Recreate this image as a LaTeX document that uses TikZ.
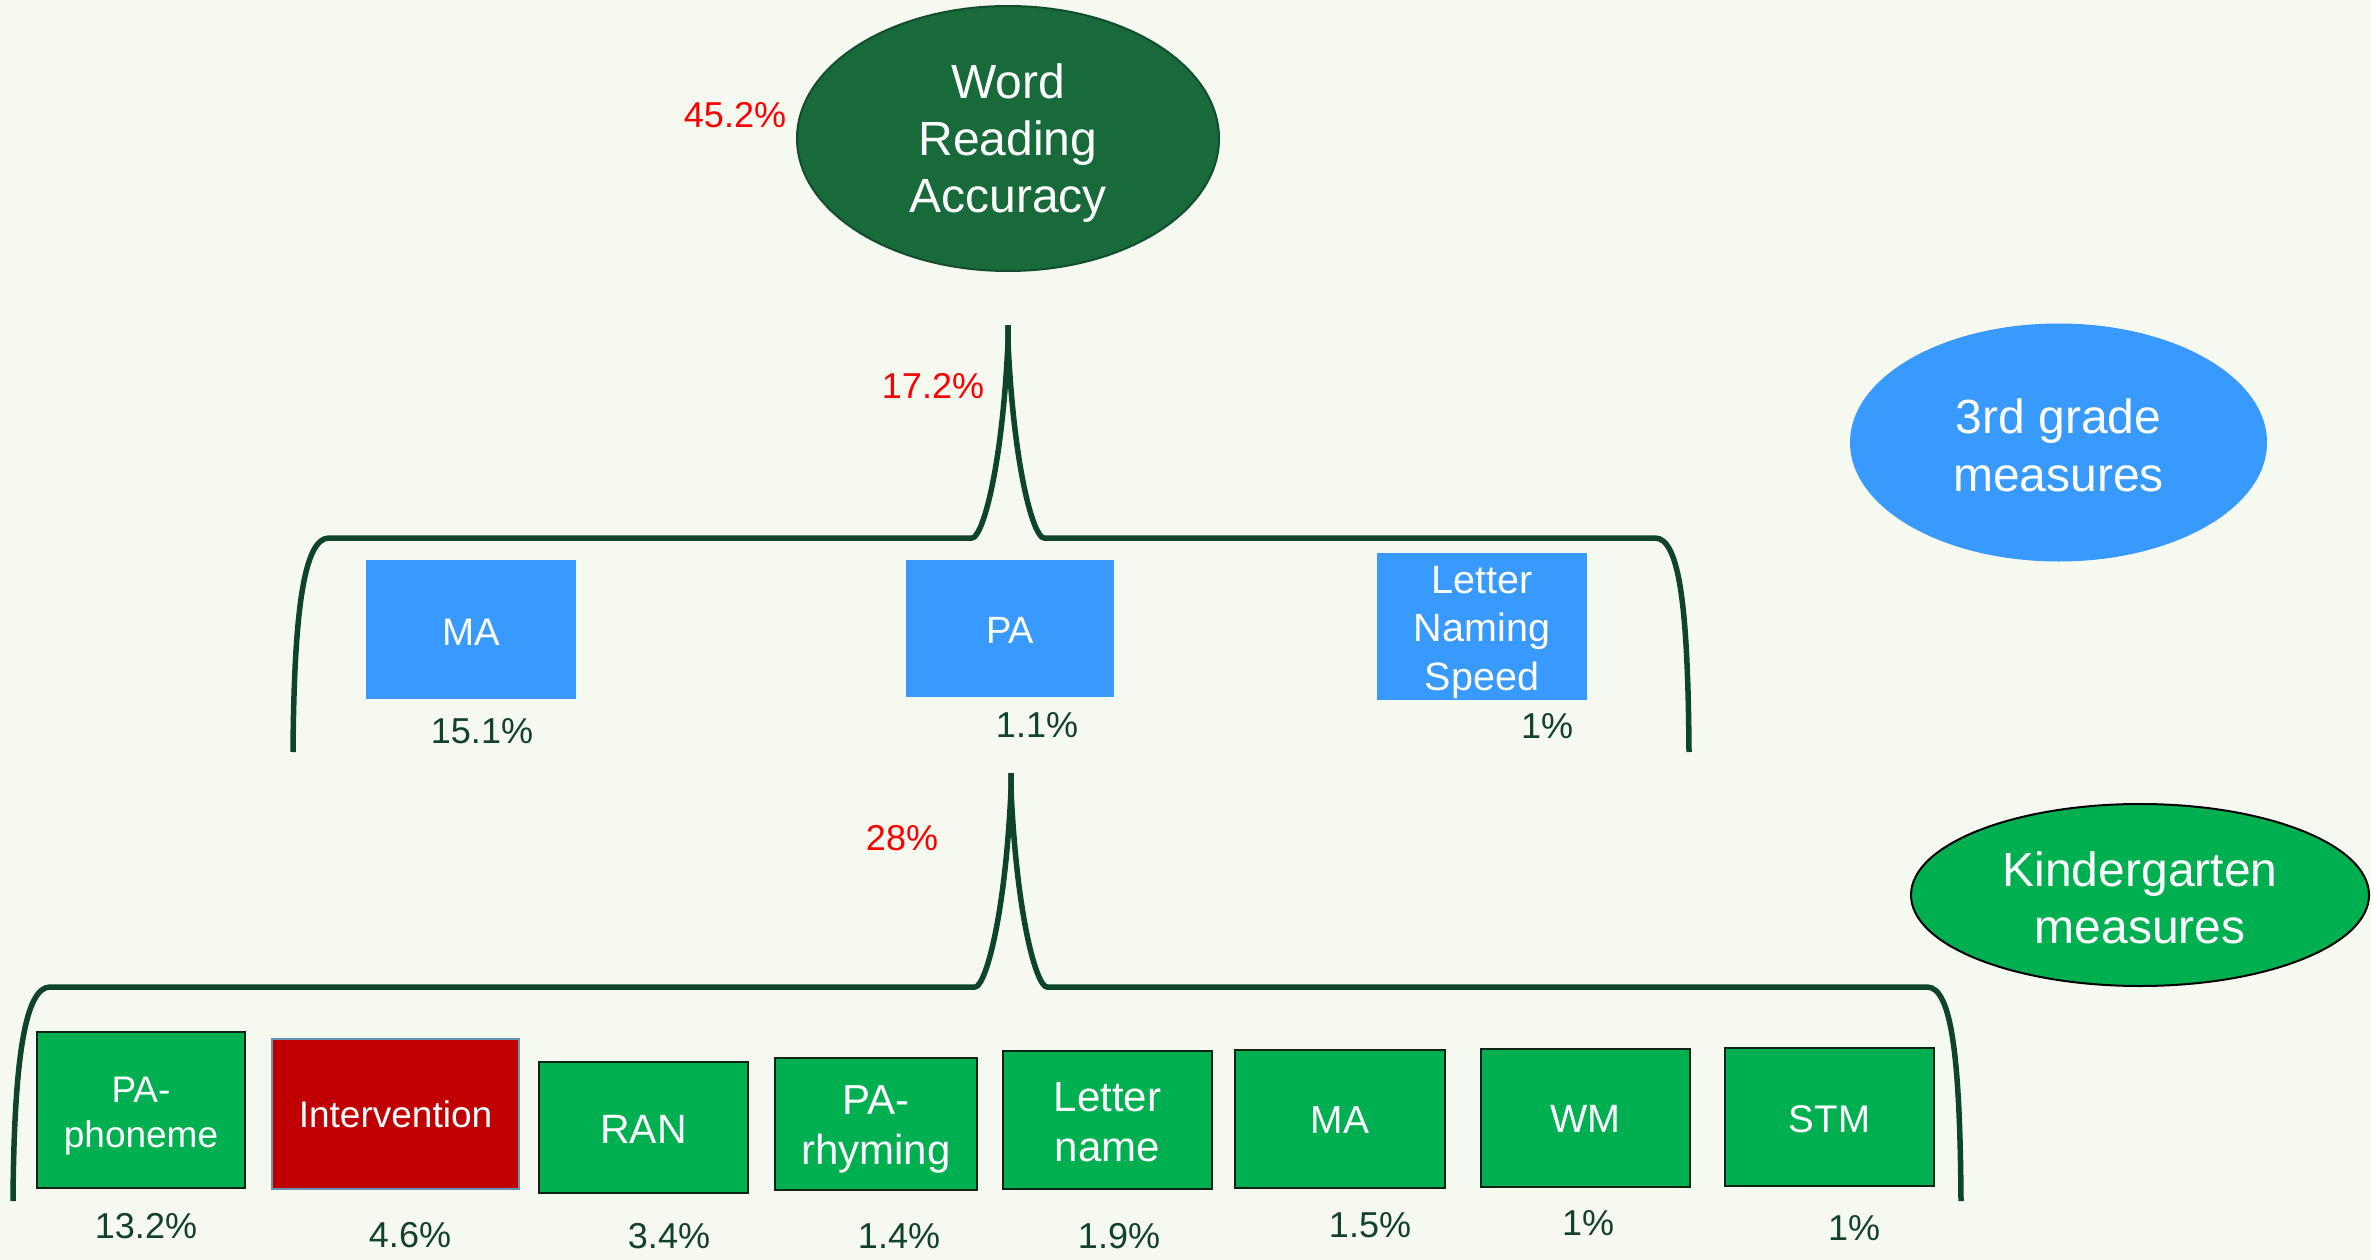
\documentclass[tikz,border=0pt]{standalone}
\usepackage{fontspec}
\setmainfont{Liberation Sans}
\usetikzlibrary{shapes.geometric,calc}

\definecolor{pagebg}{RGB}{246,249,240}
\definecolor{bracegreen}{RGB}{14,68,40}
\definecolor{deepgreen}{RGB}{24,106,58}
\definecolor{deepedge}{RGB}{18,78,44}
\definecolor{skyblue}{RGB}{56,153,254}
\definecolor{kgreen}{RGB}{0,175,80}
\definecolor{boxedge}{RGB}{12,36,20}
\definecolor{crimson}{RGB}{192,0,0}
\definecolor{intedge}{RGB}{100,150,180}
\definecolor{pctgreen}{RGB}{18,66,40}
\definecolor{pctred}{RGB}{255,0,0}

% struts that fix the first-line height and last-line depth of a label
\newcommand\upst[1]{\rule{0pt}{#1pt}}
\newcommand\dnst[1]{\rule[-#1pt]{0pt}{#1pt}}
\newcommand\fsz[2]{\fontsize{#1pt}{#2pt}\selectfont}

\begin{document}
\begin{tikzpicture}[x=1pt,y=-1pt,
  brace/.style={draw=bracegreen,line width=5.5pt,line cap=butt,line join=round},
  pct/.style={anchor=base,text=pctgreen,font=\fsz{36}{43},inner sep=0pt},
  redpct/.style={anchor=base,text=pctred,font=\fsz{36}{43},inner sep=0pt},
  bluebox/.style={rectangle,fill=skyblue,text=white,inner sep=0pt,align=center},
  kbox/.style={rectangle,fill=kgreen,draw=boxedge,line width=2.5pt,text=white,inner sep=0pt,align=center},
  oval/.style={ellipse,inner sep=0pt,align=center,text=white,line width=2pt}
]
\fill[pagebg] (0,0) rectangle (2371,1260);
\useasboundingbox (0,0) rectangle (2371,1260);

% ---- outcome ----
\node[oval,fill=deepgreen,draw=deepedge,minimum width=422pt,minimum height=265pt,font=\fsz{48}{57}]
  (wra) at (1008,138.5) {\upst{47}Word\\Reading\\Accuracy\dnst{12}};
\node[redpct] (p452) at (735,128) {45.2\%};

% ---- legend ovals ----
\node[oval,fill=skyblue,minimum width=417pt,minimum height=238pt,font=\fsz{48}{58}]
  (third) at (2058.5,442.5) {\upst{51}3rd grade\\measures\dnst{12}};
\node[oval,fill=kgreen,draw=black,minimum width=458pt,minimum height=182pt,font=\fsz{48}{57}]
  (kinder) at (2140,895) {\upst{51}Kindergarten\\measures\dnst{12}};

% ---- upper brace (3rd grade block) ----
\coordinate (ta) at (1008,325);
\coordinate (la) at (293,752);
\coordinate (lb) at (329,538);
\coordinate (rb) at (1655,538);
\coordinate (ra) at (1689,752);
\draw[brace] (la) .. controls +(1,-141) and +(-25,0) .. (lb)
  -- ($(ta)+(-36,213)$) .. controls +(10,0) and +(-6,130) .. ($(ta)+(0,17)$) -- (ta);
\draw[brace] (ta) -- ($(ta)+(0,17)$) .. controls +(6,130) and +(-10,0) .. ($(ta)+(36,213)$)
  -- (rb) .. controls +(25,0) and +(-1,-141) .. (ra);
\node[redpct] (p172) at (933,398) {17.2\%};

% ---- 3rd grade measures ----
\node[bluebox,minimum width=210pt,minimum height=139pt,font=\fsz{38.5}{46}]
  (ma3) at (471,629.5) {\upst{40}MA\dnst{9}};
\node[bluebox,minimum width=208pt,minimum height=137pt,font=\fsz{38}{46}]
  (pa3) at (1010,628.5) {\upst{38}PA\dnst{9}};
\node[bluebox,minimum width=210pt,minimum height=139pt,font=\fsz{39.5}{48.5}]
  (lns) at (1482,626.5) {\upst{40}Letter\\Naming\\Speed\dnst{10}};
\node[pct] (p151) at (482,743) {15.1\%};
\node[pct] (p11) at (1037,737) {1.1\%};
\node[pct] (p1a) at (1547,738) {1\%};

% ---- lower brace (kindergarten block) ----
\coordinate (tb) at (1011,773);
\coordinate (lc) at (13,1201);
\coordinate (ld) at (50,987);
\coordinate (rd) at (1927,987);
\coordinate (rc) at (1961,1201);
\draw[brace] (lc) .. controls +(1,-141) and +(-25,0) .. (ld)
  -- ($(tb)+(-36,214)$) .. controls +(10,0) and +(-6,130) .. ($(tb)+(0,17)$) -- (tb);
\draw[brace] (tb) -- ($(tb)+(0,17)$) .. controls +(6,130) and +(-10,0) .. ($(tb)+(36,214)$)
  -- (rd) .. controls +(25,0) and +(-1,-141) .. (rc);
\node[redpct] (p28) at (902,850) {28\%};

% ---- kindergarten measures ----
\node[kbox,minimum width=208pt,minimum height=156pt,font=\fsz{37}{45}]
  (pap) at (141,1110) {\upst{39}PA-\\phoneme\dnst{10}};
\node[rectangle,fill=crimson,draw=intedge,line width=2pt,text=white,inner sep=0pt,
  minimum width=247pt,minimum height=150pt,font=\fsz{37}{45}]
  (int) at (395.5,1114) {\upst{36}Intervention\dnst{10}};
\node[kbox,minimum width=209pt,minimum height=131pt,font=\fsz{41}{48}]
  (ran) at (643.5,1127.5) {\upst{40}RAN\dnst{9}};
\node[kbox,minimum width=202pt,minimum height=132pt,font=\fsz{42}{50}]
  (par) at (876,1124) {\upst{40}PA-\\rhyming\dnst{10}};
\node[kbox,minimum width=209pt,minimum height=138pt,font=\fsz{42}{50}]
  (ltn) at (1107.5,1120) {\upst{42}Letter\\name\dnst{10}};
\node[kbox,minimum width=210pt,minimum height=138pt,font=\fsz{39}{47}]
  (mak) at (1340,1119) {\upst{37}MA\dnst{9}};
\node[kbox,minimum width=209pt,minimum height=138pt,font=\fsz{39.5}{47}]
  (wm) at (1585.5,1118) {\upst{37}WM\dnst{9}};
\node[kbox,minimum width=209pt,minimum height=138pt,font=\fsz{38.5}{46}]
  (stm) at (1829.5,1117) {\upst{39}STM\dnst{9}};

\node[pct] (p132) at (146,1238) {13.2\%};
\node[pct] (p46) at (410,1247) {4.6\%};
\node[pct] (p34) at (669,1248) {3.4\%};
\node[pct] (p14) at (899,1248) {1.4\%};
\node[pct] (p19) at (1119,1248) {1.9\%};
\node[pct] (p15) at (1370,1237) {1.5\%};
\node[pct] (p1b) at (1588,1235) {1\%};
\node[pct] (p1c) at (1854,1240) {1\%};
\end{tikzpicture}
\end{document}
